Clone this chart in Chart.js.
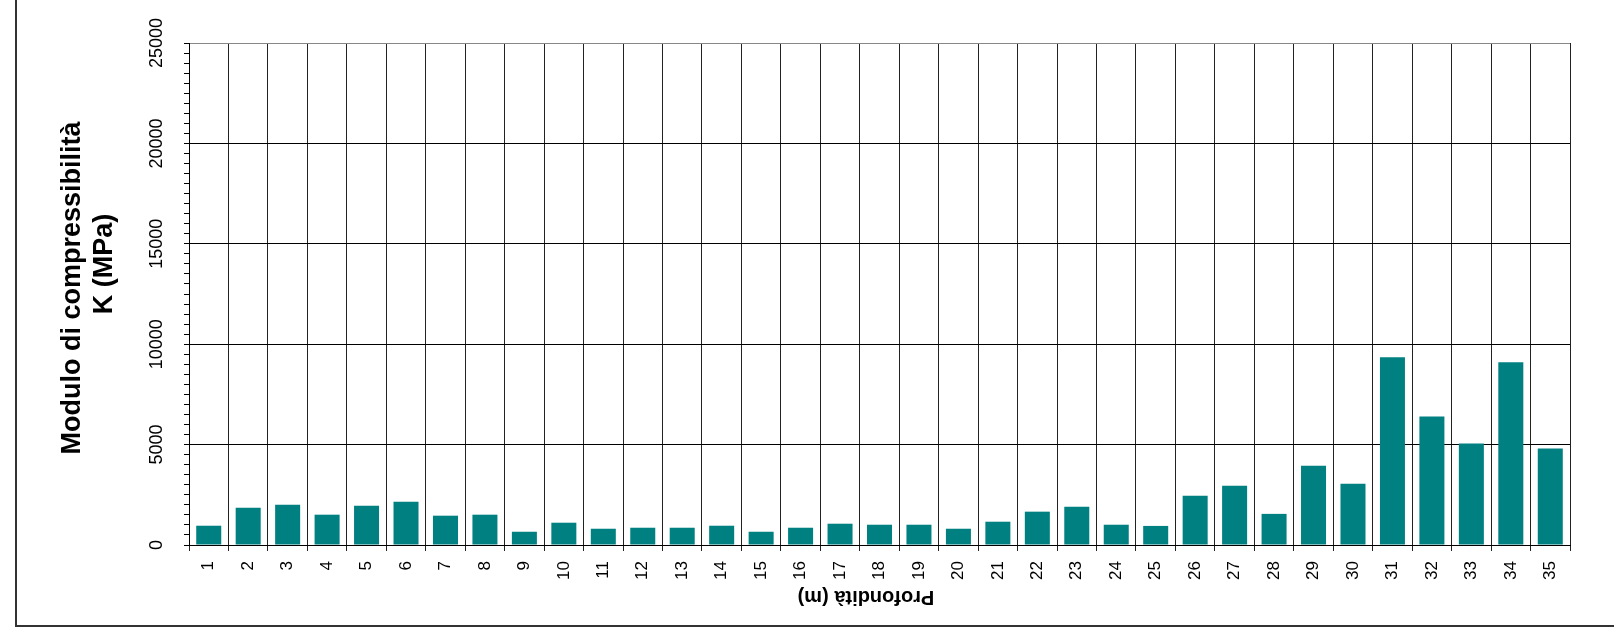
<!DOCTYPE html>
<html>
<head>
<meta charset="utf-8">
<script src="https://cdn.jsdelivr.net/npm/chart.js@4.4.1/dist/chart.umd.min.js"></script>
<style>
  html, body { margin: 0; padding: 0; background: #fff; }
  canvas { display: block; }
</style>
</head>
<body>
<canvas id="kChart" width="1614" height="635"></canvas>
<script>
// Profondità (m)
const depths = ['1', '2', '3', '4', '5', '6', '7', '8', '9', '10',
    '11', '12', '13', '14', '15', '16', '17', '18', '19', '20',
    '21', '22', '23', '24', '25', '26', '27', '28', '29', '30',
    '31', '32', '33', '34', '35'];

// Modulo di compressibilità K (MPa)
const kValues = [960, 1860, 2010, 1510, 1960, 2160, 1460, 1510, 660, 1110,
    810, 860, 860, 960, 660, 860, 1060, 1010, 1010, 810,
    1160, 1660, 1910, 1010, 950, 2450, 2950, 1550, 3950, 3050,
    9350, 6400, 5050, 9100, 4800];

const yMajorTicks = [0, 5000, 10000, 15000, 20000, 25000];

const yTitleLines = ['Modulo di compressibilità', 'K (MPa)'];
const xTitle = 'Profondità (m)';

const fontFamily = '"Liberation Sans", Arial, sans-serif';

// cornice esterna e titoli degli assi
const frameAndTitles = {
    id: 'frameAndTitles',
    afterDraw(chart) {
        const ctx = chart.ctx;
        ctx.save();
        ctx.strokeStyle = '#333';
        ctx.lineWidth = 2;
        ctx.strokeRect(16, -10, 1700, 636);

        ctx.fillStyle = '#000';
        ctx.font = 'bold 27px ' + fontFamily;
        ctx.textAlign = 'center';
        ctx.textBaseline = 'alphabetic';

        ctx.save();
        ctx.translate(80, 288);
        ctx.rotate(-Math.PI / 2);
        ctx.fillText(yTitleLines[0], 0, 0);
        ctx.restore();

        ctx.save();
        ctx.translate(112, 264);
        ctx.rotate(-Math.PI / 2);
        ctx.fillText(yTitleLines[1], 0, 0);
        ctx.restore();

        ctx.font = 'bold 20px ' + fontFamily;
        ctx.textBaseline = 'middle';
        ctx.translate(866, 597);
        ctx.rotate(Math.PI);
        ctx.fillText(xTitle, 0, 0);
        ctx.restore();
    }
};

const ctx = document.getElementById('kChart').getContext('2d');

new Chart(ctx, {
    type: 'bar',
    data: {
        labels: depths,
        datasets: [{
            label: 'K (MPa)',
            data: kValues,
            backgroundColor: '#008080',
            borderWidth: 0,
            categoryPercentage: 1,
            barPercentage: 0.634
        }]
    },
    options: {
        responsive: false,
        animation: false,
        layout: {
            padding: { left: 0, top: 43, right: 44, bottom: 0 }
        },
        plugins: {
            legend: { display: false },
            tooltip: { enabled: false }
        },
        scales: {
            x: {
                offset: true,
                grid: {
                    offset: true,
                    color: '#222',
                    lineWidth: 1,
                    tickLength: 6,
                    tickColor: '#222'
                },
                border: { color: '#000', width: 1 },
                ticks: {
                    autoSkip: false,
                    minRotation: 90,
                    maxRotation: 90,
                    padding: 10,
                    color: '#000',
                    font: { family: fontFamily, size: 17 }
                },
                afterFit(scale) {
                    scale.height = 90;
                }
            },
            y: {
                min: 0,
                max: 25000,
                ticks: {
                    stepSize: 500,
                    autoSkip: false,
                    minRotation: 90,
                    maxRotation: 90,
                    crossAlign: 'center',
                    padding: 2,
                    color: '#000',
                    font: { family: fontFamily, size: 18 },
                    callback: function (value) {
                        return yMajorTicks.includes(value) ? String(value) : '';
                    }
                },
                grid: {
                    color: function (c) {
                        if (!c.tick) return 'transparent';
                        if (c.tick.value === 25000) return '#888';
                        return c.tick.value % 5000 === 0 ? '#000' : 'transparent';
                    },
                    tickColor: '#000',
                    tickLength: 5,
                    lineWidth: 1
                },
                border: { color: '#000', width: 1 },
                afterFit(scale) {
                    scale.width = 189;
                }
            }
        }
    },
    plugins: [frameAndTitles]
});
</script>
</body>
</html>
